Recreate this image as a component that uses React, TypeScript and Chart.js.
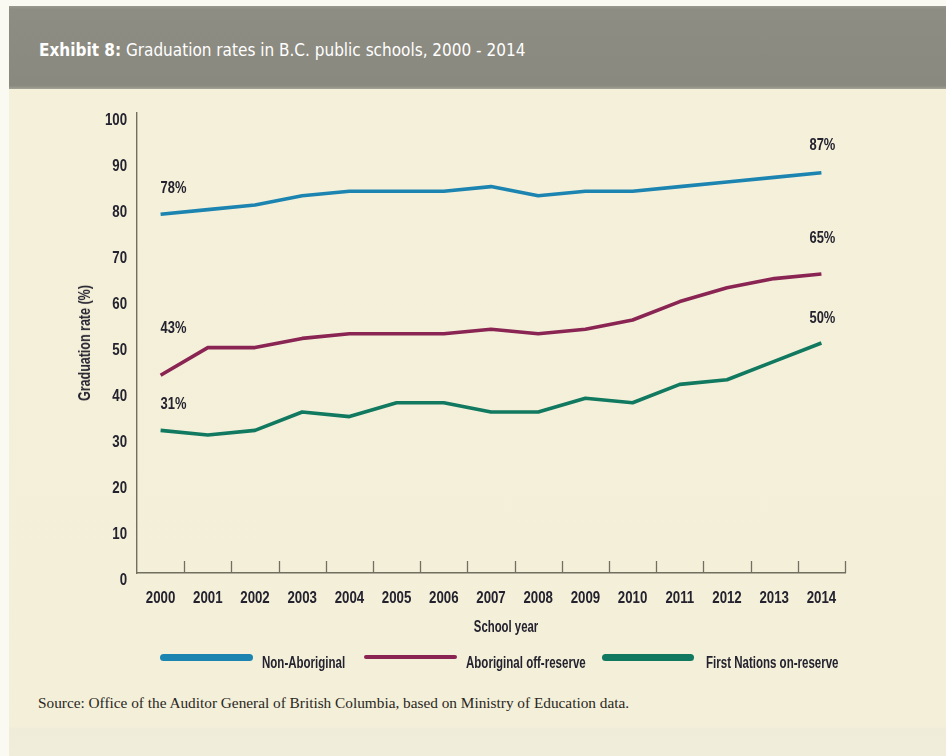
import React, { useEffect, useRef } from "react";
import { Chart, registerables } from "chart.js";

Chart.register(...registerables);

// School years on the horizontal axis
const schoolYears = [
  "2000", "2001", "2002", "2003", "2004", "2005", "2006", "2007",
  "2008", "2009", "2010", "2011", "2012", "2013", "2014",
];

// Graduation rates (%) by group
const nonAboriginal = [78, 79, 80, 82, 83, 83, 83, 84, 82, 83, 83, 84, 85, 86, 87];
const aboriginalOffReserve = [43, 49, 49, 51, 52, 52, 52, 53, 52, 53, 55, 59, 62, 64, 65];
const firstNationsOnReserve = [31, 30, 31, 35, 34, 37, 37, 35, 35, 38, 37, 41, 42, 46, 50];

const seriesNames = ["Non-Aboriginal", "Aboriginal off-reserve", "First Nations on-reserve"];
const seriesColors = ["#1c84b0", "#8a2453", "#10795f"];

const Y_MIN = 0;
const Y_MAX = 100;
const Y_STEP = 10;

const SANS = '"Liberation Sans", Arial, sans-serif';
const AXIS_COLOR = "#726e60";
const TEXT_DARK = "#23222e";

// Vertical lift (px) of the start / end value labels above their points
const startLabelLift = [26, 47, 26];
const endLabelLift = [27, 36, 25];

// Draws horizontally compressed text so a regular face reads like a condensed one
function narrowText(ctx: CanvasRenderingContext2D, text: string, x: number, y: number, align: CanvasTextAlign, sx: number) {
  ctx.save();
  ctx.translate(x, y);
  ctx.scale(sx, 1);
  ctx.textAlign = align;
  ctx.fillText(text, 0, 0);
  ctx.restore();
}

const condensedAxes = {
  id: "condensedAxes",
  afterDraw(chart: any) {
    const { ctx, chartArea, scales } = chart;
    const xs = scales.x;
    const ys = scales.y;
    const n = xs.ticks.length;
    const w = (chartArea.right - chartArea.left) / n;
    ctx.save();

    // inward tick marks between the school years
    ctx.strokeStyle = AXIS_COLOR;
    ctx.lineWidth = 1.3;
    for (let i = 1; i <= n; i++) {
      const x = Math.round(chartArea.left + i * w) + 0.5;
      ctx.beginPath();
      ctx.moveTo(x, chartArea.bottom);
      ctx.lineTo(x, chartArea.bottom - 12);
      ctx.stroke();
    }

    ctx.fillStyle = TEXT_DARK;
    ctx.textBaseline = "middle";
    ctx.font = `bold 17px ${SANS}`;

    // y tick labels
    ys.ticks.forEach((t: any) => {
      const y = ys.getPixelForValue(t.value) + 7;
      narrowText(ctx, String(t.value), chartArea.left - 10, y, "right", 0.78);
    });

    // x tick labels
    xs.ticks.forEach((t: any, i: number) => {
      const x = xs.getPixelForTick(i);
      narrowText(ctx, xs.getLabelForValue(t.value), x, chartArea.bottom + 25, "center", 0.78);
    });

    // start / end value labels
    ctx.font = `bold 17px ${SANS}`;
    chart.data.datasets.forEach((ds: any, di: number) => {
      const meta = chart.getDatasetMeta(di);
      const first = meta.data[0];
      const last = meta.data[meta.data.length - 1];
      narrowText(ctx, `${ds.data[0]}%`, first.x, first.y - startLabelLift[di], "left", 0.76);
      narrowText(ctx, `${ds.data[ds.data.length - 1]}%`, last.x + 1, last.y - endLabelLift[di], "center", 0.76);
    });
    ctx.restore();
  },
};

function GraduationChart() {
  const canvasRef = useRef<HTMLCanvasElement | null>(null);

  useEffect(() => {
    const prevMargin = document.body.style.margin;
    document.body.style.margin = "0";
    const canvas = canvasRef.current;
    if (!canvas) return;
    const chart = new Chart(canvas, {
      type: "line",
      data: {
        labels: schoolYears,
        datasets: [nonAboriginal, aboriginalOffReserve, firstNationsOnReserve].map((values, i) => ({
          label: seriesNames[i],
          data: values,
          borderColor: seriesColors[i],
          backgroundColor: seriesColors[i],
          borderWidth: 3.6,
          borderJoinStyle: "round" as const,
          pointRadius: 0,
          tension: 0,
          fill: false,
        })),
      },
      options: {
        responsive: false,
        animation: false,
        layout: { padding: { left: 0, right: 101, top: 23, bottom: 0 } },
        plugins: {
          legend: { display: false },
          title: { display: false },
          tooltip: { enabled: false },
        },
        scales: {
          x: {
            type: "category",
            offset: true,
            grid: { display: true, drawOnChartArea: false, drawTicks: false, offset: true },
            border: { display: true, color: AXIS_COLOR, width: 1.4 },
            ticks: { display: false, autoSkip: false },
            afterFit(scale: any) {
              scale.height = 117;
            },
          },
          y: {
            min: Y_MIN,
            max: Y_MAX,
            grid: { display: true, drawOnChartArea: false, drawTicks: false },
            border: { display: true, color: AXIS_COLOR, width: 1.4 },
            ticks: { display: false, stepSize: Y_STEP },
            afterFit(scale: any) {
              scale.width = 137;
            },
          },
        },
      },
      plugins: [condensedAxes],
    });
    return () => {
      chart.destroy();
      document.body.style.margin = prevMargin;
    };
  }, []);

  return (
    <canvas
      ref={canvasRef}
      width={946}
      height={600}
      style={{ position: "absolute", left: 0, top: 90, width: 946, height: 600 }}
    />
  );
}

const narrowLabel = (sx: number, extra = "") => ({
  position: "absolute" as const,
  fontFamily: SANS,
  fontWeight: "bold" as const,
  fontSize: 16,
  lineHeight: "18px",
  color: TEXT_DARK,
  whiteSpace: "nowrap" as const,
  transform: `${extra} scaleX(${sx})`,
});

function LegendItem({ left, lineWidth, thickness, color, label, textLeft }: any) {
  return (
    <>
      <div
        style={{
          position: "absolute",
          left,
          top: 657 - thickness / 2,
          width: lineWidth,
          height: thickness,
          borderRadius: thickness / 2,
          background: color,
        }}
      />
      <div style={{ ...narrowLabel(0.72), left: textLeft, top: 654, transformOrigin: "left center" }}>{label}</div>
    </>
  );
}

export default function App() {
  return (
    <div
      style={{
        position: "relative",
        width: 946,
        height: 756,
        overflow: "hidden",
        background: "#fbfaf2",
      }}
    >
      {/* cream panel */}
      <div
        style={{
          position: "absolute",
          left: 9,
          top: 89,
          right: 0,
          bottom: 0,
          background: "linear-gradient(#f4f0da 0%, #f3efd9 95.5%, #efecd9 96%, #f0edda 100%)",
        }}
      />
      {/* header band */}
      <div
        style={{
          position: "absolute",
          left: 9,
          top: 6,
          right: 0,
          height: 83,
          background: "linear-gradient(#9a998f 0%, #8e8d83 4%, #8a897f 96%, #a3a297 100%)",
        }}
      />
      <div
        style={{
          position: "absolute",
          left: 39,
          top: 40,
          lineHeight: "20px",
          fontFamily: '"DejaVu Sans Condensed", "DejaVu Sans", sans-serif',
          fontSize: 17,
          color: "#ffffff",
          whiteSpace: "nowrap",
        }}
      >
        <span style={{ fontWeight: "bold" }}>Exhibit 8:</span> Graduation rates in B.C. public schools, 2000 - 2014
      </div>

      <GraduationChart />

      {/* axis titles */}
      <div style={{ ...narrowLabel(0.78, "translate(-50%, -50%) rotate(-90deg)"), left: 85, top: 343 }}>
        Graduation rate (%)
      </div>
      <div style={{ ...narrowLabel(0.71, "translate(-50%, -50%)"), left: 506, top: 627 }}>School year</div>

      <LegendItem left={160} lineWidth={93} thickness={7} color={seriesColors[0]} label={seriesNames[0]} textLeft={262} />
      <LegendItem left={364} lineWidth={93} thickness={4} color={seriesColors[1]} label={seriesNames[1]} textLeft={466} />
      <LegendItem left={602} lineWidth={92} thickness={7} color={seriesColors[2]} label={seriesNames[2]} textLeft={706} />

      <div
        style={{
          position: "absolute",
          left: 38,
          top: 694,
          lineHeight: "18px",
          fontFamily: '"Liberation Serif", "DejaVu Serif", serif',
          fontSize: 15.3,
          color: "#2a2722",
          whiteSpace: "nowrap",
        }}
      >
        Source: Office of the Auditor General of British Columbia, based on Ministry of Education data.
      </div>
    </div>
  );
}
